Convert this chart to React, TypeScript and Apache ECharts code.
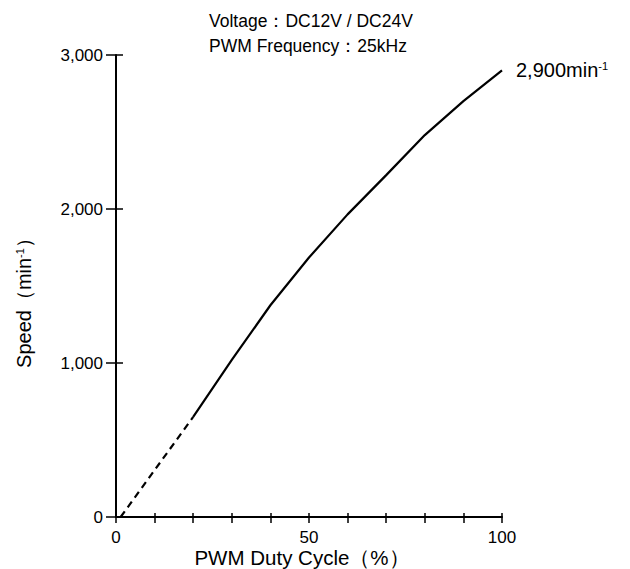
import React, { useEffect, useRef } from "react";
import * as echarts from "echarts";

const dutyDashed = [1.2, 20];
const speedDashed = [0, 650];
const dutySolid = [20, 30, 40, 50, 60, 70, 80, 90, 100];
const speedSolid = [650, 1020, 1375, 1685, 1965, 2220, 2480, 2700, 2900];
const xLabels = [0, 50, 100];
const titleLines = ["Voltage：DC12V / DC24V", "PWM Frequency：25kHz"];
const endLabelText = "2,900min{sup|-1}";

const FONT = "'Liberation Sans', Arial, Helvetica, sans-serif";

export default function App() {
  const ref = useRef<HTMLDivElement>(null);
  useEffect(() => {
    if (!ref.current) return;
    document.body.style.margin = "0";
    const chart = echarts.init(ref.current, null, { renderer: "svg" });
    const axisCommonX = {
      type: "value",
      min: 0,
      max: 100,
      interval: 10,
      splitLine: { show: false },
    };
    const axisCommonY = {
      type: "value",
      min: 0,
      max: 3000,
      interval: 1000,
      splitLine: { show: false },
    };
    chart.setOption({
      animation: false,
      backgroundColor: "#fff",
      grid: {
        left: 116,
        right: 128,
        top: 55,
        bottom: 52,
        containLabel: false,
        outerBoundsMode: "none",
      },
      graphic: titleLines.map((t, i) => ({
        type: "text",
        x: 209,
        y: 21 + i * 25,
        style: {
          text: t,
          fontSize: 17.5,
          fontFamily: FONT,
          fill: "#000",
          textAlign: "left",
          textVerticalAlign: "middle",
        },
      })),
      xAxis: [
        {
          ...axisCommonX,
          position: "bottom",
          axisLine: { lineStyle: { color: "#000", width: 2 } },
          axisTick: { show: true, inside: false, length: 6, lineStyle: { color: "#000", width: 1.5 } },
          axisLabel: {
            color: "#000",
            fontSize: 17,
            lineHeight: 17,
            fontFamily: FONT,
            margin: 12,
            formatter: (v: number) => (xLabels.includes(v) ? String(v) : ""),
          },
          name: "PWM Duty Cycle（%）",
          nameLocation: "middle",
          nameGap: 30,
          nameMoveOverlap: false,
          nameTextStyle: {
            color: "#000",
            fontSize: 20.5,
            lineHeight: 20,
            fontFamily: FONT,
            padding: [0, 14, 0, 0],
          },
        },
        {
          ...axisCommonX,
          position: "bottom",
          axisLine: { show: false },
          axisTick: { show: true, inside: true, length: 4, lineStyle: { color: "#000", width: 1.5 } },
          axisLabel: { show: false },
        },
      ],
      yAxis: [
        {
          ...axisCommonY,
          position: "left",
          axisLine: { lineStyle: { color: "#000", width: 2 } },
          axisTick: { show: true, inside: false, length: 10, lineStyle: { color: "#000", width: 1.5 } },
          axisLabel: {
            color: "#000",
            fontSize: 17,
            fontFamily: FONT,
            margin: 13,
            formatter: (v: number) => v.toLocaleString("en-US"),
          },
          name: "Speed（min{sup|-1}）",
          nameLocation: "middle",
          nameRotate: 90,
          nameGap: 82,
          nameTextStyle: {
            color: "#000",
            fontSize: 20,
            fontFamily: FONT,
            padding: [0, 24, 0, 0],
            rich: { sup: { fontSize: 11, fontFamily: FONT, color: "#000", padding: [0, 0, 9, 0] } },
          },
        },
        {
          ...axisCommonY,
          position: "left",
          axisLine: { show: false },
          axisTick: { show: true, inside: true, length: 7, lineStyle: { color: "#000", width: 1.5 } },
          axisLabel: { show: false },
        },
      ],
      series: [
        {
          type: "line",
          xAxisIndex: 0,
          yAxisIndex: 0,
          data: dutyDashed.map((x, i) => [x, speedDashed[i]]),
          showSymbol: false,
          symbol: "none",
          lineStyle: { color: "#000", width: 2.2, type: [7, 5] },
          silent: true,
        },
        {
          type: "line",
          xAxisIndex: 0,
          yAxisIndex: 0,
          data: dutySolid.map((x, i) => [x, speedSolid[i]]),
          symbol: "none",
          showSymbol: false,
          lineStyle: { color: "#000", width: 2.2 },
          silent: true,
          endLabel: {
            show: true,
            distance: 14,
            formatter: () => endLabelText,
            color: "#000",
            fontSize: 20,
            fontFamily: FONT,
            rich: {
              sup: { fontSize: 11, fontFamily: FONT, color: "#000", padding: [0, 0, 9, 0] },
            },
          },
        },
      ],
    });
    return () => chart.dispose();
  }, []);
  return <div ref={ref} style={{ width: 630, height: 569 }} />;
}
